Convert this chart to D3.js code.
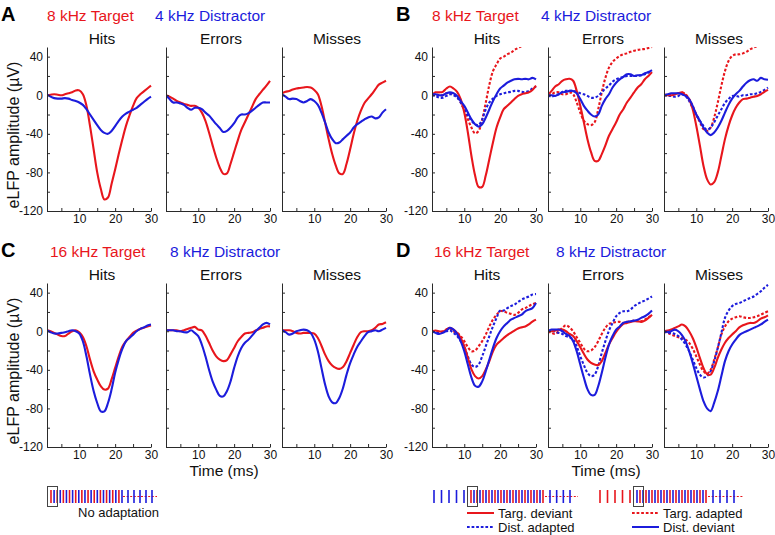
<!DOCTYPE html>
<html>
<head>
<meta charset="utf-8">
<script src="https://cdn.jsdelivr.net/npm/d3@7"></script>
<style>
  body { margin: 0; background: #fff; }
</style>
</head>
<body>
<svg id="fig" width="775" height="535"></svg>
<script>
// time axis (ms)
const time = [1,2,3,4,5,6,7,8,9,10,11,12,13,14,15,16,17,18,19,20,21,22,23,24,25,26,27,28,29,30];

// A: 8 kHz target / 4 kHz distractor, no adaptation
const aHitsTarg   = [0,0.5,1,0.5,0,1,2,3,5,5,1,-11,-32,-56,-80,-97,-108,-106,-92,-77,-61,-46,-32,-21,-11,-3,1,4,7,10];
const aHitsDist   = [1,-1.5,-3,-3.5,-3.5,-3,-3.5,-5,-6,-7.5,-10,-14.5,-20,-25.5,-31,-36,-39,-40,-37,-32,-26.5,-22,-19,-17,-15,-13,-10,-7,-4,-1.5];
const aErrorsTarg = [0,-1.5,-3.5,-6,-7.5,-9,-10,-11,-11,-13,-18,-26.5,-38.6,-52,-64.5,-75,-81.5,-81,-71,-59,-47,-36,-28,-20,-12,-4,1,5.5,10,15];
const aErrorsDist = [0,-4,-7.5,-7.5,-8.5,-10,-13,-15,-13,-13,-14.5,-18,-21,-25.5,-30,-34,-38,-37,-33.5,-29,-23,-20,-20,-18.5,-16,-13,-10,-7.5,-7.5,-7.5];
const aMissesTarg = [2,3.5,4.5,6,7,7.5,8,8.5,8,5.5,1,-11,-28,-45.5,-61,-73,-81,-81.5,-71,-56,-40,-26.5,-16,-8,-3.5,1,6,11,13,15];
const aMissesDist = [1,-1.5,-4,-3.5,-4,-6,-7.5,-6,-4,-6,-10,-18,-28,-38.6,-45.5,-49.7,-49,-45.5,-42,-38.6,-33.5,-30,-27.5,-25,-23,-22,-24,-23,-18,-14.5];

// B: 8 kHz target / 4 kHz distractor, adaptation
const bHitsTargDev     = [0,3,3,3.5,7,9,7,3.5,-4,-18,-38.6,-63,-83,-95,-95,-83,-66,-49,-33.5,-23,-14.5,-11,-7.5,-4,-0.7,1,2,3,5.5,10];
const bHitsTargAdapt   = [1,1,0,0,2,2,1,-1.5,-7.5,-16,-25,-33.5,-39.5,-37,-25,-7.5,11,25,32,38,40,42.5,44,47,49,51,53,55,56,57];
const bHitsDistDev     = [1,1,0,0,2,3,2,-0.7,-6,-11,-18,-25,-30,-32.5,-30,-23,-14.5,-6,1,7,10,13,15,16.5,17,16.5,17,16.5,18,16.5];
const bHitsDistAdapt   = [0,-0.7,-2.5,-2.5,-0.7,1,0,-2.5,-7.5,-14.5,-21,-26.5,-30,-31,-25,-14.5,-7.5,-3.5,-0.7,1,2,3,3.5,4.5,4.5,3.5,3.5,4.5,7,9];
const bErrorsTargDev   = [0,4.5,9,11.4,15,16.5,17,15,4.5,-11,-28,-45.5,-59,-68,-68,-61,-52,-42,-35,-28,-20,-14.5,-7.5,-2.5,3,8,11.4,16.5,20,24];
const bErrorsTargAdapt = [0,1,3,3,1,1,3,1,-7.5,-18,-26.5,-30,-31,-28,-14.5,3,18,28.6,34.5,38,40.7,42.4,43.4,45,46,47,47.6,48,49,50];
const bErrorsDistDev   = [0,0,-0.7,1,3,3.5,4.5,4.5,2,-4,-11,-16,-20,-22,-20,-11,-4,1,8,13,16.5,19,21.7,21.7,20,20.7,20.7,22.8,24,26];
const bErrorsDistAdapt = [0,-1.5,0,1,3.5,4.5,4.5,4.5,3.5,2,1,-0.7,-2.5,-2.5,-0.7,3,7,10,14,16.5,18,19,20,20,20,20,20.7,21.7,23.4,25];
const bMissesTargDev   = [0,0,0,1,2,3,0,-4,-14.5,-31.7,-52,-73,-87,-92.5,-90,-80,-63,-45.5,-31.7,-21,-13,-7.5,-4,-3.5,-2.5,-1.5,-0.7,1,3.5,5.5];
const bMissesTargAdapt = [0,1,1,1,2,3,1,-4,-11,-20,-28,-35,-37,-33.5,-23,-7.5,10,25,35.5,40.7,42.4,42.4,43.4,45,47.6,49.3,51,53,55,56];
const bMissesDistDev   = [0,1,2,2,2,1,-0.7,-4,-11,-20,-26.5,-33.5,-38.6,-41.4,-38.6,-33.5,-26.5,-18,-10,-3.5,1,4.5,9,13,15.5,16.5,15,18,16.5,16];
const bMissesDistAdapt = [0,-0.7,-0.7,-1.5,-0.7,1,-0.7,-6,-13,-20,-26.5,-31.7,-36,-33.5,-28,-21,-14.5,-8,-4,-0.7,-0.7,-1.5,0,0,1,1,2,3.5,5.5,8];

// C: 16 kHz target / 8 kHz distractor, no adaptation
const cHitsTarg   = [1,0,-1.7,-3.5,-5,-5,-2.4,0,1,-1,-6,-15.6,-29.4,-41.5,-50,-57,-60.5,-59.5,-50,-38,-26,-16,-10.4,-6,-1.7,0.7,2.4,3.5,5,6];
const cHitsDist   = [1,-1,-2.4,-2.4,-1.7,-1,0,1,0,-2.4,-10.4,-26,-45,-62,-74.4,-83,-83,-74.4,-60.5,-43,-29.4,-18.3,-10.4,-7,-3.5,0,2.4,4,6,7];
const cErrorsTarg = [1,1,1,1,0,1,2.4,3.5,4.5,1.7,1,-4.5,-12,-20,-26,-29.4,-31,-30,-24,-17.3,-10.4,-6,-2.4,-1.7,-1,0.7,2.4,3.5,5,5];
const cErrorsDist = [1,1,1,0,0,-1,-1,1,-1.7,-5,-14,-26,-40,-52,-60.5,-67,-67.5,-62,-52,-38,-26,-17.3,-12,-8.7,-4.5,0,3.5,7,8.7,7];
const cMissesTarg = [1,1,1,0,-1.7,-2.4,-1.7,-1.7,-1.7,-2.4,-7,-15,-24,-31,-35.6,-38,-39,-37,-31,-22.5,-14,-6,-1,0,0,1,3.5,7,7.6,9.3];
const cMissesDist = [1,-1,-3.5,-2.4,0,1,1.7,1,-1.7,-8.7,-20.8,-38,-55,-67.5,-73.7,-74.5,-69,-59,-45,-33,-24,-16,-10.4,-5,-1,0,1,0,1.7,3.5];

// D: 16 kHz target / 8 kHz distractor, adaptation
const dHitsTargDev     = [0,0.7,0,-0.7,1.7,3.5,1.7,-1.7,-7,-15.5,-27.6,-39.6,-46.5,-49,-46.5,-39.6,-31,-20.7,-13.8,-10.3,-7,-4,-1.7,0.7,2.8,4,5,7,10,12];
const dHitsTargAdapt   = [0,0,-0.7,0,1.7,2.8,0,-1.7,-5,-10.3,-16.5,-20.7,-20,-15.5,-10.3,-3.4,5,12,17,20.7,20.7,19,18,17,19,22.4,24,26,28,29.3];
const dHitsDistDev     = [0,-1.7,-2.8,-1.7,0.7,3.5,1.7,-2.8,-10.3,-20.7,-34.5,-48,-56.5,-57.5,-52,-41.4,-29.3,-17.2,-7,0,5,8.6,12,13.8,15.5,17.2,20.7,22.4,24,29.3];
const dHitsDistAdapt   = [0,-0.7,-1.7,-0.7,0,0.7,-1.7,-5,-10.3,-16.5,-26,-34.5,-37,-34.5,-26,-15.5,-5,5,13.8,21.4,21.4,24,26,27.6,30.3,32.8,34.5,36,38,38.6];
const dErrorsTargDev   = [0,0,0.7,1.7,1.7,0,-2.8,-5,-10.3,-16.5,-23.4,-29.3,-32.8,-34.5,-35,-31,-22.4,-13.8,-7,-0.7,4,7.6,8.6,9.7,10.3,10.3,9.7,11,13.8,17.2];
const dErrorsTargAdapt = [0,-1.7,-2.8,0,3.5,6.2,4,0,-6.2,-12,-18,-20.7,-20,-16.5,-10.3,-2.8,3.5,7.6,8.6,9.7,9.7,8.6,9.7,10.3,11,10.3,10.3,12,14.5,16.5];
const dErrorsDistDev   = [0,1.7,1.7,1.7,0,-2.8,-5,-10.3,-20.7,-34.5,-48,-60,-66,-66,-57,-43,-27.6,-13.8,-5,1.7,5,8.6,9.7,10.3,11,12,13.8,15.5,18,21.4];
const dErrorsDistAdapt = [0,0.7,-0.7,-1.7,-2.8,-5,-6.2,-8.6,-15.5,-26,-35,-43,-46.5,-45,-36,-22.4,-10.3,0.7,8.6,15.5,19,20.7,20.7,22.4,26,28.3,30.3,31.7,33.8,36];
const dMissesTargDev   = [0,0.7,1.7,3.5,5,7,5,0,-7,-16.5,-27.6,-38,-44.5,-45,-38,-27.6,-19,-12,-7,-3.4,0,4,6.2,7.6,8.6,8.6,10.3,13,14.5,16.5];
const dMissesTargAdapt = [0,-1.7,-3.4,-5,-6.2,-7,-8.6,-12,-18,-26,-34.5,-41.4,-44,-40,-29.3,-17.2,-3.4,5,10.3,13,14.5,15.5,14.5,13.8,13.8,14.5,15.5,17.2,19,20.7];
const dMissesDistDev   = [0,-0.7,0,1.7,0,-4,-10.3,-20.7,-32.8,-46.5,-60,-72.4,-80,-82.8,-74,-62,-46.5,-31,-20.7,-13.8,-8.6,-4,-1.7,0,1.7,3.5,5,7,9.7,12];
const dMissesDistAdapt = [0,-1.7,-1.7,-2.8,-5,-8.6,-13.8,-20.7,-29.3,-38,-45,-48,-46.5,-41.4,-31,-17.2,-1.7,13.8,21.4,26,28.3,29.3,31,32.8,34.5,36,38.6,41.4,45,48];

// axis ticks
const xTicks = [5,10,15,20,25,30];
const xTickLabels = [10,20,30];
const yTicks = [-120,-100,-80,-60,-40,-20,0,20,40];
const yTickLabels = [-120,-80,-40,0,40];
const conditions = ["Hits","Errors","Misses"];

// stimulus sequence schematics (r = target, b = distractor)
const seqNoAdaptDense  = ["r","b","r","b","r","b","r","b","r","b","r","b","r","b","r","b","r","b","r","b","r","b","r","b"];
const seqNoAdaptTail   = ["b","b","b","b","b"];
const seqTargDevLead   = ["b","b","b","b","b"];
const seqTargDevDense  = ["r","b","r","b","r","b","r","b","r","b","r","b","r","b","r","b","r","b","r","b","r","b","r","b","r"];
const seqTargDevTail   = ["b","b","b","b"];
const seqDistDevLead   = ["r","r","r","r","r"];
const seqDistDevDense  = ["b","r","b","r","b","r","b","r","b","r","b","r","b","r","b","r","b","r","b","r","b","r","b","r"];
const seqDistDevTail   = ["b","b","b","b"];

// colors & fonts
const RED = "#e8161c";
const BLUE = "#1c1cdc";
const AXIS_COLOR = "#2a2a2a";
const FONT = "'Liberation Sans', Arial, Helvetica, sans-serif";
const colorOf = { r: RED, b: BLUE };

// layout
const AX_W = 104;
const AX_H = 164;
const COLS = [[47, 166, 282], [432, 548, 664]];
const ROWS = [47, 283];

const panels = [
  { letter: "A", col: 0, row: 0, targ: "8 kHz Target", dist: "4 kHz Distractor", targX: 47, distX: 155,
    lines: [[aHitsTarg, aHitsDist], [aErrorsTarg, aErrorsDist], [aMissesTarg, aMissesDist]].map(p => [
      { v: p[0], c: RED, dash: false }, { v: p[1], c: BLUE, dash: false }]) },
  { letter: "B", col: 1, row: 0, targ: "8 kHz Target", dist: "4 kHz Distractor", targX: 432, distX: 541,
    lines: [
      [bHitsTargAdapt, bHitsDistAdapt, bHitsTargDev, bHitsDistDev],
      [bErrorsTargAdapt, bErrorsDistAdapt, bErrorsTargDev, bErrorsDistDev],
      [bMissesTargAdapt, bMissesDistAdapt, bMissesTargDev, bMissesDistDev]
    ].map(p => [
      { v: p[0], c: RED, dash: true }, { v: p[1], c: BLUE, dash: true },
      { v: p[2], c: RED, dash: false }, { v: p[3], c: BLUE, dash: false }]) },
  { letter: "C", col: 0, row: 1, targ: "16 kHz Target", dist: "8 kHz Distractor", targX: 50, distX: 170,
    lines: [[cHitsTarg, cHitsDist], [cErrorsTarg, cErrorsDist], [cMissesTarg, cMissesDist]].map(p => [
      { v: p[0], c: RED, dash: false }, { v: p[1], c: BLUE, dash: false }]) },
  { letter: "D", col: 1, row: 1, targ: "16 kHz Target", dist: "8 kHz Distractor", targX: 434, distX: 556,
    lines: [
      [dHitsTargAdapt, dHitsDistAdapt, dHitsTargDev, dHitsDistDev],
      [dErrorsTargAdapt, dErrorsDistAdapt, dErrorsTargDev, dErrorsDistDev],
      [dMissesTargAdapt, dMissesDistAdapt, dMissesTargDev, dMissesDistDev]
    ].map(p => [
      { v: p[0], c: RED, dash: true }, { v: p[1], c: BLUE, dash: true },
      { v: p[2], c: RED, dash: false }, { v: p[3], c: BLUE, dash: false }]) }
];

const svg = d3.select("#fig").style("font-family", FONT);
svg.append("rect").attr("width", 775).attr("height", 535).attr("fill", "#fff");

// scales
const x = d3.scaleLinear().domain([1, 30]).range([0, AX_W]);
const y = d3.scaleLinear().domain([-120, 50]).range([AX_H, 0]);

const line = d3.line()
  .x((d, i) => x(time[i]))
  .y(d => y(d))
  .curve(d3.curveCatmullRom.alpha(0.5));

panels.forEach((p, pi) => {
  const top = ROWS[p.row];
  const headY = top - 26;

  // panel letter + heading
  svg.append("text").attr("x", p.col ? 396 : 1).attr("y", headY).attr("font-size", 20)
    .attr("font-weight", "bold").attr("fill", "#000").text(p.letter);
  svg.append("text").attr("x", p.targX).attr("y", headY).attr("font-size", 15.5)
    .attr("fill", RED).text(p.targ);
  svg.append("text").attr("x", p.distX).attr("y", headY).attr("font-size", 15.5)
    .attr("fill", BLUE).text(p.dist);

  conditions.forEach((cond, ci) => {
    const x0 = COLS[p.col][ci];
    const g = svg.append("g").attr("transform", `translate(${x0},${top})`);

    // subplot title
    g.append("text").attr("x", AX_W / 2 + 3).attr("y", -3).attr("text-anchor", "middle")
      .attr("font-size", 15.5).attr("fill", "#111").text(cond);

    // clip
    const clipId = `clip-${pi}-${ci}`;
    g.append("clipPath").attr("id", clipId)
      .append("rect").attr("x", 0).attr("y", 0).attr("width", AX_W + 2).attr("height", AX_H);

    // lines
    const lg = g.append("g").attr("clip-path", `url(#${clipId})`);
    p.lines[ci].forEach(s => {
      lg.append("path")
        .datum(s.v)
        .attr("d", line)
        .attr("fill", "none")
        .attr("stroke", s.c)
        .attr("stroke-width", 2.1)
        .attr("stroke-linejoin", "round")
        .attr("stroke-dasharray", s.dash ? "2.7,1.9" : null);
    });

    // x axis
    const xAxis = g.append("g").attr("transform", `translate(0,${AX_H})`)
      .call(d3.axisBottom(x).tickValues(xTicks).tickSizeInner(-3).tickSizeOuter(0).tickPadding(3)
        .tickFormat(d => xTickLabels.includes(d) ? String(d) : ""));
    // y axis
    const yAxis = g.append("g")
      .call(d3.axisLeft(y).tickValues(yTicks).tickSizeInner(-3).tickSizeOuter(0).tickPadding(4)
        .tickFormat(d => (ci === 0 && yTickLabels.includes(d)) ? String(d) : ""));

    [xAxis, yAxis].forEach(a => {
      a.select(".domain").attr("stroke", AXIS_COLOR);
      a.selectAll(".tick line").attr("stroke", AXIS_COLOR);
      a.selectAll("text").attr("font-size", 12).attr("fill", "#111").attr("font-family", FONT);
    });
  });

  // axis labels
  if (p.col === 0) {
    svg.append("text")
      .attr("transform", `translate(19,${top + AX_H / 2 + 6}) rotate(-90)`)
      .attr("text-anchor", "middle").attr("font-size", 16).attr("fill", "#111")
      .text("eLFP amplitude (\u00b5V)");
  }
  if (p.row === 1) {
    svg.append("text")
      .attr("x", COLS[p.col][1] + AX_W / 2 + 6).attr("y", top + AX_H + 29)
      .attr("text-anchor", "middle").attr("font-size", 15.5).attr("fill", "#111")
      .text("Time (ms)");
  }
});

// stimulus sequences
const SEQ_Y0 = 490, SEQ_Y1 = 503, SEQ_MID = 496.5;

function drawSeq(lead, dense, tail, leadX, denseX, tailX, tailEnd) {
  const g = svg.append("g");
  // red dotted baseline in tail
  g.append("line").attr("x1", tailX[0] - 5).attr("x2", tailEnd)
    .attr("y1", SEQ_MID).attr("y2", SEQ_MID)
    .attr("stroke", RED).attr("stroke-width", 1).attr("stroke-dasharray", "2,1.6");

  const segs = [[lead, leadX], [dense, denseX], [tail, tailX]];
  segs.forEach(([arr, range]) => {
    if (!arr.length) return;
    const sx = d3.scaleLinear().domain([0, arr.length - 1]).range(range);
    g.selectAll(null).data(arr).join("line")
      .attr("x1", (d, i) => sx(i)).attr("x2", (d, i) => sx(i))
      .attr("y1", SEQ_Y0).attr("y2", SEQ_Y1)
      .attr("stroke", d => colorOf[d]).attr("stroke-width", 1.6);
  });

  // box around first interleaved tone
  g.append("rect").attr("x", denseX[0] - 3.5).attr("y", 486.5).attr("width", 10).attr("height", 20)
    .attr("fill", "none").attr("stroke", "#444").attr("stroke-width", 1);
}

drawSeq([], seqNoAdaptDense, seqNoAdaptTail, [0, 0], [51, 122], [128, 152], 157);
drawSeq(seqTargDevLead, seqTargDevDense, seqTargDevTail, [434, 464], [471, 543], [550, 570], 578);
drawSeq(seqDistDevLead, seqDistDevDense, seqDistDevTail, [600, 630], [637, 706], [713, 734], 743);

svg.append("text").attr("x", 78).attr("y", 517).attr("font-size", 13).attr("fill", "#111")
  .text("No adaptation");

// legend
const legend = [
  { x: 467, y: 513, c: RED, dash: false, label: "Targ. deviant" },
  { x: 467, y: 527, c: BLUE, dash: true, label: "Dist. adapted" },
  { x: 632, y: 513, c: RED, dash: true, label: "Targ. adapted" },
  { x: 632, y: 527, c: BLUE, dash: false, label: "Dist. deviant" }
];
legend.forEach(l => {
  svg.append("line").attr("x1", l.x).attr("x2", l.x + 27).attr("y1", l.y).attr("y2", l.y)
    .attr("stroke", l.c).attr("stroke-width", 2)
    .attr("stroke-dasharray", l.dash ? "2.7,1.9" : null);
  svg.append("text").attr("x", l.x + 31).attr("y", l.y + 4.5).attr("font-size", 13)
    .attr("fill", "#111").text(l.label);
});
</script>
</body>
</html>
